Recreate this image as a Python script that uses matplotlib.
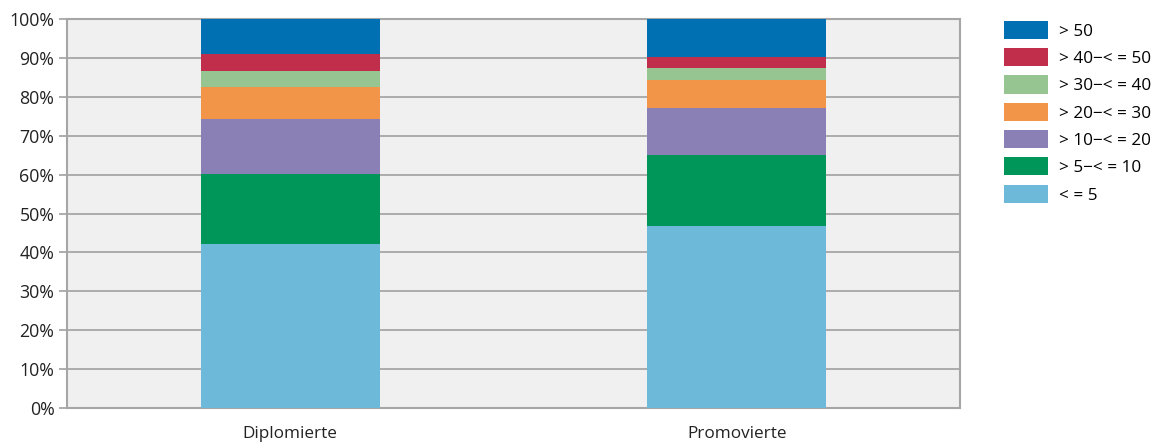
import matplotlib
matplotlib.use("Agg")
import matplotlib.pyplot as plt
import numpy as np
from matplotlib.patches import Patch

plt.rcParams["font.family"] = ["Open Sans", "DejaVu Sans"]

# ── Data (segment shares, in %)
categories = ["Diplomierte", "Promovierte"]
labels = ["< = 5", "> 5\u2212< = 10", "> 10\u2212< = 20", "> 20\u2212< = 30",
          "> 30\u2212< = 40", "> 40\u2212< = 50", "> 50"]
colors = ["#6db9da", "#00965a", "#8b80b5", "#f39548", "#96c592", "#c02e4b", "#0070b2"]
share_le5 = [42.2, 46.9]
share_5_10 = [18.0, 18.1]
share_10_20 = [14.1, 12.2]
share_20_30 = [8.2, 7.2]
share_30_40 = [4.1, 3.0]
share_40_50 = [4.5, 2.8]
share_gt50 = [8.9, 9.8]
series = [share_le5, share_5_10, share_10_20, share_20_30,
          share_30_40, share_40_50, share_gt50]

fig = plt.figure(figsize=(11.68, 4.42), dpi=100)
ax = fig.add_axes([67 / 1168, 1 - 408 / 442, (960 - 67) / 1168, (408 - 19) / 442])
ax.set_facecolor("#f0f0f0")

x = np.arange(len(categories))
bottom = np.zeros(len(categories))
for vals, col in zip(series, colors):
    vals = np.array(vals)
    ax.bar(x, vals, 0.4, bottom=bottom, color=col, zorder=3, linewidth=0)
    bottom += vals

ax.set_xlim(-0.5, 1.5)
ax.set_ylim(0, 100)
ax.set_yticks(np.arange(0, 101, 10))
ax.set_yticklabels([f"{v}%" for v in range(0, 101, 10)], fontsize=12.8, color="#222222")
ax.set_xticks(x)
ax.set_xticklabels(categories, fontsize=12.3, color="#222222")
ax.tick_params(axis="x", length=0, pad=13)
ax.tick_params(axis="y", length=6, color="#a0a0a0", width=1.2, pad=3)
ax.yaxis.grid(True, color="#a6a6a6", linewidth=1.3, zorder=1)
ax.set_axisbelow(True)
for s in ax.spines.values():
    s.set_color("#a6a6a6")
    s.set_linewidth(1.5)

handles = [Patch(facecolor=c, edgecolor="none") for c in colors]
fig.legend(handles[::-1], labels[::-1], loc="upper left",
           bbox_to_anchor=(997 / 1168, 1 - 14 / 442), frameon=False,
           fontsize=12.3, handlelength=2.57, handleheight=1.25,
           labelspacing=0.5, handletextpad=0.64, borderaxespad=0)

fig.savefig("out.png", dpi=100)
